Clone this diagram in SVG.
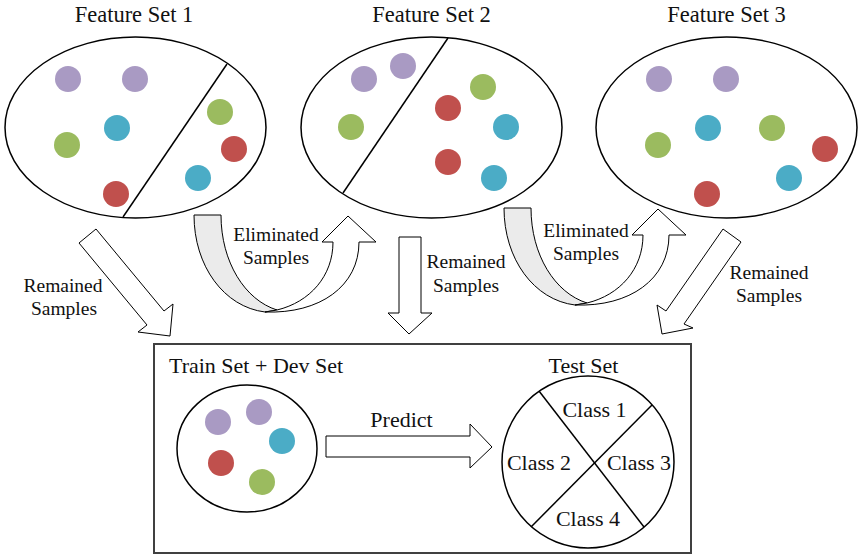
<svg xmlns="http://www.w3.org/2000/svg" width="858" height="555" viewBox="0 0 858 555">
<style>
text{font-family:"Liberation Serif","Times New Roman",serif;fill:#111;}
.t{font-size:22.5px;text-anchor:middle;}
.l{font-size:19.5px;text-anchor:middle;}
.c{font-size:22px;text-anchor:middle;}
.ell{fill:#fff;stroke:#000;stroke-width:1.5;}
.ln{stroke:#000;stroke-width:1.5;fill:none;}
.arr{fill:#fff;stroke:#000;stroke-width:1;stroke-linejoin:miter;}
.gr{fill:#ebebeb;stroke:#000;stroke-width:1;}
.p{fill:#a99ac3;}.g{fill:#9bbb5f;}.b{fill:#4bacc6;}.r{fill:#c0504d;}
</style>
<rect width="858" height="555" fill="#fff"/>

<g id="feature-set-1">
<text class="t" x="134" y="22">Feature Set 1</text>
<ellipse class="ell" cx="135.5" cy="127.5" rx="130.5" ry="90.5"/>
<line class="ln" x1="227" y1="64" x2="123" y2="217"/>
<circle class="p" cx="68" cy="79" r="13"/><circle class="p" cx="135" cy="79" r="13"/>
<circle class="g" cx="67" cy="145" r="13"/><circle class="b" cx="117" cy="128" r="13"/>
<circle class="r" cx="116" cy="194" r="13"/><circle class="g" cx="220" cy="112" r="13"/>
<circle class="r" cx="234" cy="149" r="13"/><circle class="b" cx="198" cy="178" r="13"/>
</g>

<g id="feature-set-2">
<text class="t" x="431.5" y="22">Feature Set 2</text>
<ellipse class="ell" cx="431.5" cy="127.5" rx="130.5" ry="90.5"/>
<line class="ln" x1="448" y1="38" x2="343" y2="193"/>
<circle class="p" cx="364" cy="79" r="13"/><circle class="p" cx="403" cy="66" r="13"/>
<circle class="g" cx="351" cy="127" r="13"/><circle class="g" cx="483" cy="87" r="13"/>
<circle class="r" cx="448" cy="108" r="13"/><circle class="b" cx="506" cy="127" r="13"/>
<circle class="r" cx="448" cy="162" r="13"/><circle class="b" cx="494" cy="178" r="13"/>
</g>

<g id="feature-set-3">
<text class="t" x="726.5" y="22">Feature Set 3</text>
<ellipse class="ell" cx="726.5" cy="127.5" rx="130.5" ry="90.5"/>
<circle class="p" cx="659" cy="79" r="13"/><circle class="p" cx="726" cy="79" r="13"/>
<circle class="g" cx="658" cy="145" r="13"/><circle class="b" cx="708" cy="128" r="13"/>
<circle class="g" cx="772" cy="128" r="13"/><circle class="r" cx="825" cy="149" r="13"/>
<circle class="b" cx="789" cy="178" r="13"/><circle class="r" cx="707" cy="194" r="13"/>
</g>

<g id="connectors">
<polygon class="arr" points="79,243 96,229 164,311 173,304 170,336 138,332 147,325"/>
<g id="eliminated-1">
<path class="gr" d="M194,215 L221,215 C221,262 245,300 277,310 L265,312 C224,307 194,266 194,215 Z"/>
<path class="arr" d="M277,310 C310,302 333,276 333,242 L322,242 L348,216 L376,242 L359,242 C359,286 320,314 265,312 Z"/>
</g>
<polygon class="arr" points="399,237 421,237 421,313 432,313 409,334 388,313 399,313"/>
<g id="eliminated-2" transform="translate(310,-7)">
<path class="gr" d="M194,215 L221,215 C221,262 245,300 277,310 L265,312 C224,307 194,266 194,215 Z"/>
<path class="arr" d="M277,310 C310,302 333,276 333,242 L322,242 L348,216 L376,242 L359,242 C359,286 320,314 265,312 Z"/>
</g>
<polygon class="arr" points="723,229 741,242 684,324 693,328 662,334 657,305 666,311"/>
<polygon class="arr" points="326,436 470,436 470,424 492,447 470,468 470,457 326,457"/>
<text class="l" x="63" y="292">Remained</text><text class="l" x="64" y="315">Samples</text>
<text class="l" x="276" y="241">Eliminated</text><text class="l" x="276" y="264">Samples</text>
<text class="l" x="466" y="268">Remained</text><text class="l" x="466" y="292">Samples</text>
<text class="l" x="586" y="237">Eliminated</text><text class="l" x="586" y="260">Samples</text>
<text class="l" x="769" y="279">Remained</text><text class="l" x="769" y="302">Samples</text>
<text class="c" x="401.5" y="427">Predict</text>
</g>

<g id="result-box">
<rect x="154" y="344" width="537" height="209" fill="none" stroke="#404040" stroke-width="2"/>
</g>

<g id="train-dev-set">
<text class="c" x="169" y="373" style="text-anchor:start">Train Set + Dev Set</text>
<ellipse class="ell" cx="247" cy="448.5" rx="70" ry="63.5"/>
<circle class="p" cx="218" cy="422" r="13"/><circle class="p" cx="259" cy="412" r="13"/>
<circle class="b" cx="282" cy="441" r="13"/><circle class="r" cx="221" cy="463" r="13"/>
<circle class="g" cx="262" cy="482" r="13"/>
</g>

<g id="test-set">
<text class="c" x="583.5" y="373">Test Set</text>
<circle class="ell" cx="588" cy="462" r="86"/>
<line class="ln" x1="539" y1="391" x2="644" y2="527"/>
<line class="ln" x1="652" y1="405" x2="531" y2="527"/>
<text class="c" x="594.5" y="417">Class 1</text>
<text class="c" x="539" y="470">Class 2</text>
<text class="c" x="639" y="470">Class 3</text>
<text class="c" x="588" y="526">Class 4</text>
</g>
</svg>
